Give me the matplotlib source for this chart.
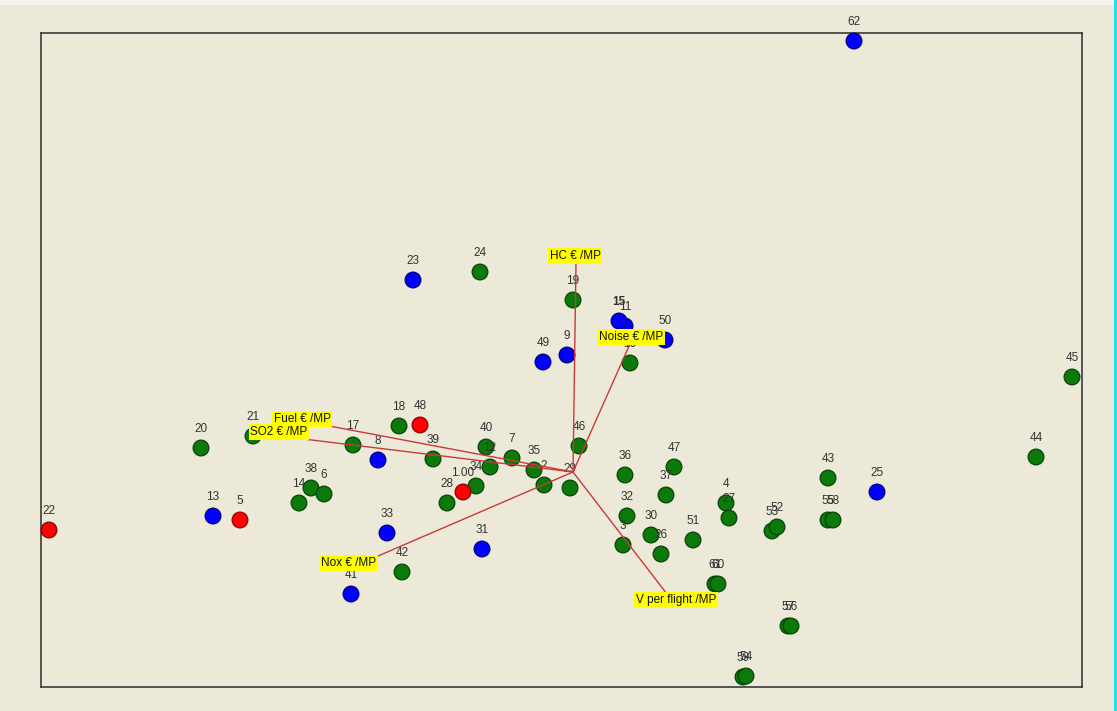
import matplotlib
matplotlib.use("Agg")
import matplotlib.pyplot as plt
from matplotlib.patches import Rectangle

# GAIA plane: actions projected on the first two principal axes
labels = ["62", "23", "24", "19", "11", "15", "50", "10", "49", "9",
          "45", "44", "20", "21", "17", "18", "48", "8", "39", "40",
          "12", "7", "34", "1.00", "28", "35", "2", "29", "46", "36",
          "47", "37", "32", "3", "30", "26", "51", "4", "27", "53",
          "52", "43", "25", "55", "58", "61", "60", "57", "56", "59",
          "54", "38", "6", "14", "13", "5", "22", "33", "31", "42", "41"]
u = [2.81, -1.60, -0.93, 0.00, 0.52, 0.46, 0.92, 0.57, -0.30, -0.06,
     4.99, 4.63, -3.72, -3.20, -2.20, -1.74, -1.53, -1.95, -1.40, -0.87,
     -0.83, -0.61, -0.97, -1.10, -1.26, -0.39, -0.29, -0.03, 0.06, 0.52,
     1.01, 0.93, 0.54, 0.50, 0.78, 0.88, 1.20, 1.53, 1.56, 1.99,
     2.04, 2.55, 3.04, 2.55, 2.60, 1.42, 1.45, 2.15, 2.18, 1.70,
     1.73, -2.62, -2.49, -2.74, -3.60, -3.33, -5.24, -1.86, -0.91, -1.71, -2.22]
v = [4.31, 1.92, 2.00, 1.72, 1.46, 1.51, 1.32, 1.09, 1.10, 1.17,
     0.95, 0.15, 0.24, 0.36, 0.27, 0.46, 0.47, 0.12, 0.13, 0.25,
     0.05, 0.14, -0.14, -0.20, -0.31, 0.02, -0.13, -0.16, 0.26, -0.03,
     0.05, -0.23, -0.44, -0.73, -0.63, -0.82, -0.68, -0.31, -0.46, -0.59,
     -0.55, -0.06, -0.20, -0.48, -0.48, -1.12, -1.12, -1.54, -1.54, -2.05,
     -2.04, -0.16, -0.22, -0.31, -0.44, -0.48, -0.58, -0.61, -0.77, -1.00, -1.22]
# category of each action: g / b / r
groups = ["b", "b", "g", "g", "b", "b", "b", "g", "b", "b",
          "g", "g", "g", "g", "g", "g", "r", "b", "g", "g",
          "g", "g", "g", "r", "g", "g", "g", "g", "g", "g",
          "g", "g", "g", "g", "g", "g", "g", "g", "g", "g",
          "g", "g", "b", "g", "g", "g", "g", "g", "g", "g",
          "g", "g", "g", "g", "b", "r", "r", "b", "b", "g", "b"]

# criteria axes
crit_names = ["HC € /MP", "Noise € /MP", "Fuel € /MP", "SO2 € /MP",
              "Nox € /MP", "V per flight /MP"]
crit_u = [0.03, 0.57, -2.65, -2.94, -1.95, 0.94]
crit_v = [2.10, 1.28, 0.50, 0.36, -0.84, -1.22]
crit_lab_u = [0.02, 0.58, -2.71, -2.94, -2.24, 1.03]
crit_lab_v = [2.16, 1.35, 0.53, 0.40, -0.91, -1.28]

fill = {"g": "#0b7a0b", "b": "#0000ff", "r": "#ff0000"}
edge = {"g": "#064406", "b": "#00007a", "r": "#8a0000"}

bg = "#ece9d8"
fig = plt.figure(figsize=(11.17, 7.11), dpi=100, facecolor=bg)
fig.patches.append(Rectangle((0, 1 - 5 / 711), 1, 5 / 711, transform=fig.transFigure,
                             facecolor="#f6f4ec", edgecolor="none"))
fig.patches.append(Rectangle((1 - 3 / 1117, 0), 3 / 1117, 1, transform=fig.transFigure,
                             facecolor="#22e0f0", edgecolor="none"))

ax = fig.add_axes([41 / 1117, 1 - 687 / 711, 1041 / 1117, 654 / 711])
ax.set_facecolor(bg)
ax.set_xlim(-5.32, 5.09)
ax.set_ylim(-2.15, 4.39)
ax.set_xticks([])
ax.set_yticks([])
for s in ax.spines.values():
    s.set_color("#3a3a3a")
    s.set_linewidth(1.2)

ax.scatter(u, v, s=128, c=[fill[g] for g in groups],
           edgecolors=[edge[g] for g in groups], linewidths=0.9,
           zorder=3, clip_on=False)

for lab, x, y in zip(labels, u, v):
    ax.annotate(lab, (x, y), xytext=(0, 13.5), textcoords="offset points",
                ha="center", va="center", fontsize=8.5, color="#333333",
                family="Liberation Sans",
                fontweight="bold" if lab == "15" else "normal",
                zorder=4, annotation_clip=False)

for name, x, y, lx, ly in zip(crit_names, crit_u, crit_v, crit_lab_u, crit_lab_v):
    ax.plot([0, x], [0, y], color="#c83a3a", lw=1, zorder=5)
    ax.text(lx, ly, name, ha="center", va="center", fontsize=8.5,
            family="Liberation Sans", color="#111111", zorder=6,
            bbox=dict(boxstyle="square,pad=0.15", facecolor="#ffff00",
                      edgecolor="none"))

fig.savefig("out.png", dpi=100, facecolor=bg)
